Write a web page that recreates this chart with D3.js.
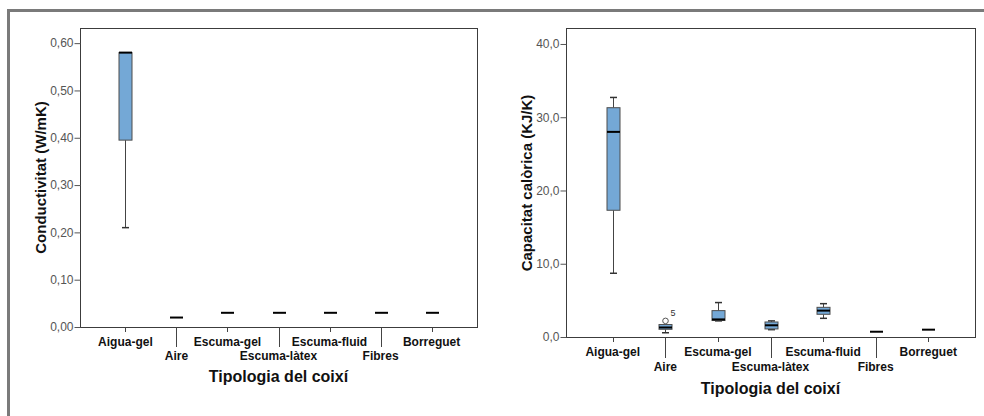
<!DOCTYPE html>
<html><head><meta charset="utf-8">
<script src="https://cdn.jsdelivr.net/npm/d3@7"></script>
<style>
body{margin:0;background:#fff;}
svg{display:block;font-family:"Liberation Sans",Arial,sans-serif;}
</style></head>
<body><svg id="c" width="984" height="416"></svg>
<script>
const categories = ["Aigua-gel","Aire","Escuma-gel","Escuma-làtex","Escuma-fluid","Fibres","Borreguet"];
// Conductivitat (W/mK)
const condMin = [0.21,0.02,0.03,0.03,0.03,0.03,0.03];
const condQ1  = [0.395,0.02,0.03,0.03,0.03,0.03,0.03];
const condMed = [0.58,0.02,0.03,0.03,0.03,0.03,0.03];
const condQ3  = [0.58,0.02,0.03,0.03,0.03,0.03,0.03];
const condMax = [0.58,0.02,0.03,0.03,0.03,0.03,0.03];
const condTicks = [0,0.1,0.2,0.3,0.4,0.5,0.6];
// Capacitat calòrica (KJ/K)
const capMin = [8.7,0.58,2.2,1.0,2.55,0.72,1.0];
const capQ1  = [17.3,1.05,2.25,1.1,3.1,0.72,1.0];
const capMed = [28.0,1.3,2.4,1.6,3.6,0.72,1.0];
const capQ3  = [31.3,1.7,3.6,2.05,4.05,0.72,1.0];
const capMax = [32.7,1.7,4.7,2.2,4.55,0.72,1.0];
const capTicks = [0,10,20,30,40];
const capOutliers = [{cat:"Aire", value:2.2, label:"5"}];

const svg = d3.select("#c");
// outer frame
svg.append("path").attr("d","M8.5,416 V10.5 H984").attr("fill","none")
  .attr("stroke","#7a7a7a").attr("stroke-width",3);

function panel(o){
  const g = svg.append("g");
  const x = d3.scalePoint().domain(categories).range([o.x0,o.x1]).padding(0.89);
  const y = d3.scaleLinear().domain(o.domain).range([o.y0,o.y1]);
  // plot frame
  g.append("rect").attr("x",o.x0+0.5).attr("y",o.y1+0.5).attr("width",o.x1-o.x0).attr("height",o.y0-o.y1)
    .attr("fill","none").attr("stroke","#3c3c3c").attr("stroke-width",1);
  // y axis
  const ya = g.append("g").attr("transform",`translate(${o.x0+0.5},0)`)
    .call(d3.axisLeft(y).tickValues(o.ticks).tickSize(6).tickSizeOuter(0).tickFormat(d=>d3.format(o.fmt)(d).replace(".",",")));
  ya.select(".domain").remove();
  ya.selectAll(".tick line").attr("stroke","#555");
  ya.selectAll(".tick text").attr("fill","#555").attr("font-size","12px").attr("x",-7);
  // x axis ticks + labels
  const xa = g.append("g");
  categories.forEach((c,i)=>{
    const cx = Math.round(x(c))+0.5;
    xa.append("line").attr("x1",cx).attr("x2",cx).attr("y1",o.y0+0.5).attr("y2",o.y0+(i%2?o.longTick:5))
      .attr("stroke","#444").attr("stroke-width",1);
    xa.append("text").attr("x",x(c)).attr("y",o.y0+(i%2?o.row2:o.row1)).attr("text-anchor","middle")
      .attr("dominant-baseline","central").attr("font-weight","bold").attr("font-size","12px").attr("fill","#111").text(c);
  });
  g.append("text").attr("x",(o.x0+o.x1)/2).attr("y",o.y0+o.titleDy).attr("text-anchor","middle")
    .attr("dominant-baseline","central").attr("font-weight","bold").attr("font-size","16px").attr("fill","#111").text("Tipologia del coixí");
  g.append("text").attr("transform",`translate(${o.ylabX},${o.ylabY}) rotate(-90)`).attr("text-anchor","middle")
    .attr("dominant-baseline","central").attr("font-weight","bold").attr("font-size","15px").attr("fill","#111").text(o.ylabel);
  // boxes
  const bw = 13, cw = 7;
  categories.forEach((c,i)=>{
    const cx = Math.round(x(c))+0.5;
    const yMin=y(o.mn[i]), yQ1=y(o.q1[i]), yMed=y(o.md[i]), yQ3=y(o.q3[i]), yMax=y(o.mx[i]);
    if (o.mx[i] > o.q3[i]) {
      g.append("line").attr("x1",cx).attr("x2",cx).attr("y1",yMax).attr("y2",yQ3).attr("stroke","#444");
      g.append("line").attr("x1",cx-cw/2).attr("x2",cx+cw/2).attr("y1",yMax).attr("y2",yMax).attr("stroke","#333").attr("stroke-width",1.5);
    }
    if (o.mn[i] < o.q1[i]) {
      g.append("line").attr("x1",cx).attr("x2",cx).attr("y1",yMin).attr("y2",yQ1).attr("stroke","#444");
      g.append("line").attr("x1",cx-cw/2).attr("x2",cx+cw/2).attr("y1",yMin).attr("y2",yMin).attr("stroke","#333").attr("stroke-width",1.5);
    }
    if (o.q3[i] > o.q1[i]) {
      g.append("rect").attr("x",cx-bw/2).attr("y",yQ3).attr("width",bw).attr("height",yQ1-yQ3)
        .attr("fill","#74a8d6").attr("stroke","#4d4d4d").attr("stroke-width",1);
    }
    g.append("line").attr("x1",cx-bw/2).attr("x2",cx+bw/2).attr("y1",yMed).attr("y2",yMed)
      .attr("stroke","#000").attr("stroke-width",2);
  });
  (o.outliers||[]).forEach(d=>{
    const cx = Math.round(x(d.cat))+0.5;
    g.append("circle").attr("cx",cx).attr("cy",y(d.value)).attr("r",2.8).attr("fill","none").attr("stroke","#555").attr("stroke-width",1);
    g.append("text").attr("x",cx+5).attr("y",y(d.value)-5).attr("font-size","9px").attr("fill","#333").text(d.label);
  });
}

panel({x0:80,x1:477,y0:327,y1:28,domain:[0,0.632],ticks:condTicks,fmt:".2f",
  mn:condMin,q1:condQ1,md:condMed,q3:condQ3,mx:condMax,
  row1:14.5,row2:29,longTick:20,titleDy:49,ylabX:40,ylabY:177.5,ylabel:"Conductivitat (W/mK)"});
panel({x0:566,x1:975,y0:337,y1:28,domain:[0,42.18],ticks:capTicks,fmt:".1f",
  mn:capMin,q1:capQ1,md:capMed,q3:capQ3,mx:capMax,outliers:capOutliers,
  row1:15,row2:29.7,longTick:21,titleDy:51,ylabX:526,ylabY:183,ylabel:"Capacitat calòrica (KJ/K)"});
</script></body></html>
